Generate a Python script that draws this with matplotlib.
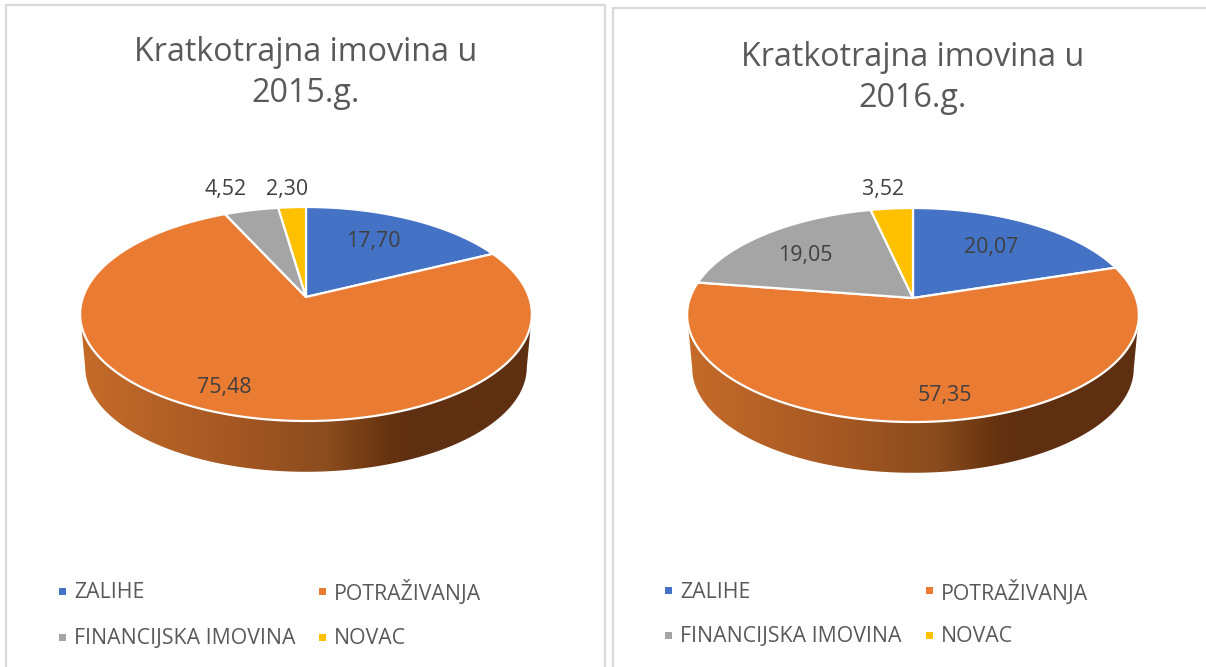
import numpy as np
import matplotlib
matplotlib.use("Agg")
import matplotlib.pyplot as plt
from matplotlib.colors import LinearSegmentedColormap
from matplotlib.patches import Polygon, Rectangle

categories = ['ZALIHE', 'POTRAŽIVANJA', 'FINANCIJSKA IMOVINA', 'NOVAC']
values_2015 = [17.70, 75.48, 4.52, 2.30]
values_2016 = [20.07, 57.35, 19.05, 3.52]
labels_2015 = ['17,70', '75,48', '4,52', '2,30']
labels_2016 = ['20,07', '57,35', '19,05', '3,52']
title_2015 = 'Kratkotrajna imovina u\n2015.g.'
title_2016 = 'Kratkotrajna imovina u\n2016.g.'
colors = ['#4472C4', '#EA7B32', '#A5A5A5', '#FFC000']

plt.rcParams['font.family'] = ['Open Sans', 'DejaVu Sans']

# perspektiva kruga na ekranu
A, B, K = 223.0, 104.3, 0.159
DEPTH, BOTTOM_SCALE = 54.0, 0.978


def project(theta, cx, cy, r=1.0, dy=0.0):
    u, v = r * np.sin(theta), r * np.cos(theta)
    w = 1 + K * v
    return cx + A * u / w, cy + dy - B * v / w


wall_cmap = LinearSegmentedColormap.from_list('wall', [
    (0.00, '#C66C2A'), (0.33, '#A65823'), (0.55, '#8A4C1E'),
    (0.68, '#66330F'), (0.72, '#5F2F11'), (1.00, '#5F2F11')])

fig = plt.figure(figsize=(12.06, 6.67), dpi=100)
ax = fig.add_axes([0, 0, 1, 1])


def draw_panel(values, labels, title, cx, cy, label_pos, title_y, legend_x, legend_y):
    # bocna stijenka, od lijevog do desnog ruba elipse
    t = np.linspace(np.pi / 2 + K, 3 * np.pi / 2 - K, 200)
    top_x, top_y = project(t, cx, cy)
    bot_x, bot_y = project(t[::-1], cx, cy, BOTTOM_SCALE, DEPTH)
    wall = Polygon(np.column_stack([np.r_[top_x, bot_x], np.r_[top_y, bot_y]]),
                   closed=True, fc='none', ec='none')
    ax.add_patch(wall)
    grad = np.linspace(0, 1, 256).reshape(1, -1)
    im = ax.imshow(grad, cmap=wall_cmap, aspect='auto', zorder=2,
                   extent=[cx - 230, cx + 230, cy + 180, cy])
    im.set_clip_path(wall)

    # gornja ploha
    edges = np.r_[0, np.cumsum(values)] / sum(values) * 2 * np.pi
    for i in range(len(values)):
        th = np.linspace(edges[i], edges[i + 1], 200)
        x, y = project(th, cx, cy)
        ax.add_patch(Polygon(np.column_stack([np.r_[cx, x], np.r_[cy, y]]),
                             closed=True, fc=colors[i], ec='white', lw=1.6,
                             joinstyle='round', zorder=3))
        ax.text(label_pos[i][0], label_pos[i][1] + 2, labels[i], ha='center', va='center',
                fontsize=15.4, color='#404040', zorder=4)

    ax.text(cx, title_y, title, ha='center', va='center', fontsize=23.2,
            color='#595959', linespacing=1.33)

    # legenda
    for i, name in enumerate(categories):
        mx, my = legend_x[i % 2], legend_y[i // 2]
        ax.add_patch(Rectangle((mx - 3.5, my - 3.5), 7, 7, fc=colors[i], ec='none'))
        ax.text(mx + 12, my + 2, name, ha='left', va='center', fontsize=15.3, color='#595959')


draw_panel(values_2015, labels_2015, title_2015, 306, 297,
           [(373, 240), (224, 385), (226, 187), (287, 187)],
           73, (62, 322), (591, 637))
draw_panel(values_2016, labels_2016, title_2016, 913, 298,
           [(991, 245), (945, 394), (805, 253), (883, 187)],
           78, (668, 929), (590, 635))

# okviri
ax.plot([6, 6, 605, 605], [667, 5, 5, 667], color='#D9D9D9', lw=1.6, zorder=1)
ax.plot([613, 613, 1206], [667, 8, 8], color='#D9D9D9', lw=1.6, zorder=1)

ax.set_xlim(0, 1206)
ax.set_ylim(667, 0)
ax.axis('off')
fig.savefig('out.png', dpi=100)
